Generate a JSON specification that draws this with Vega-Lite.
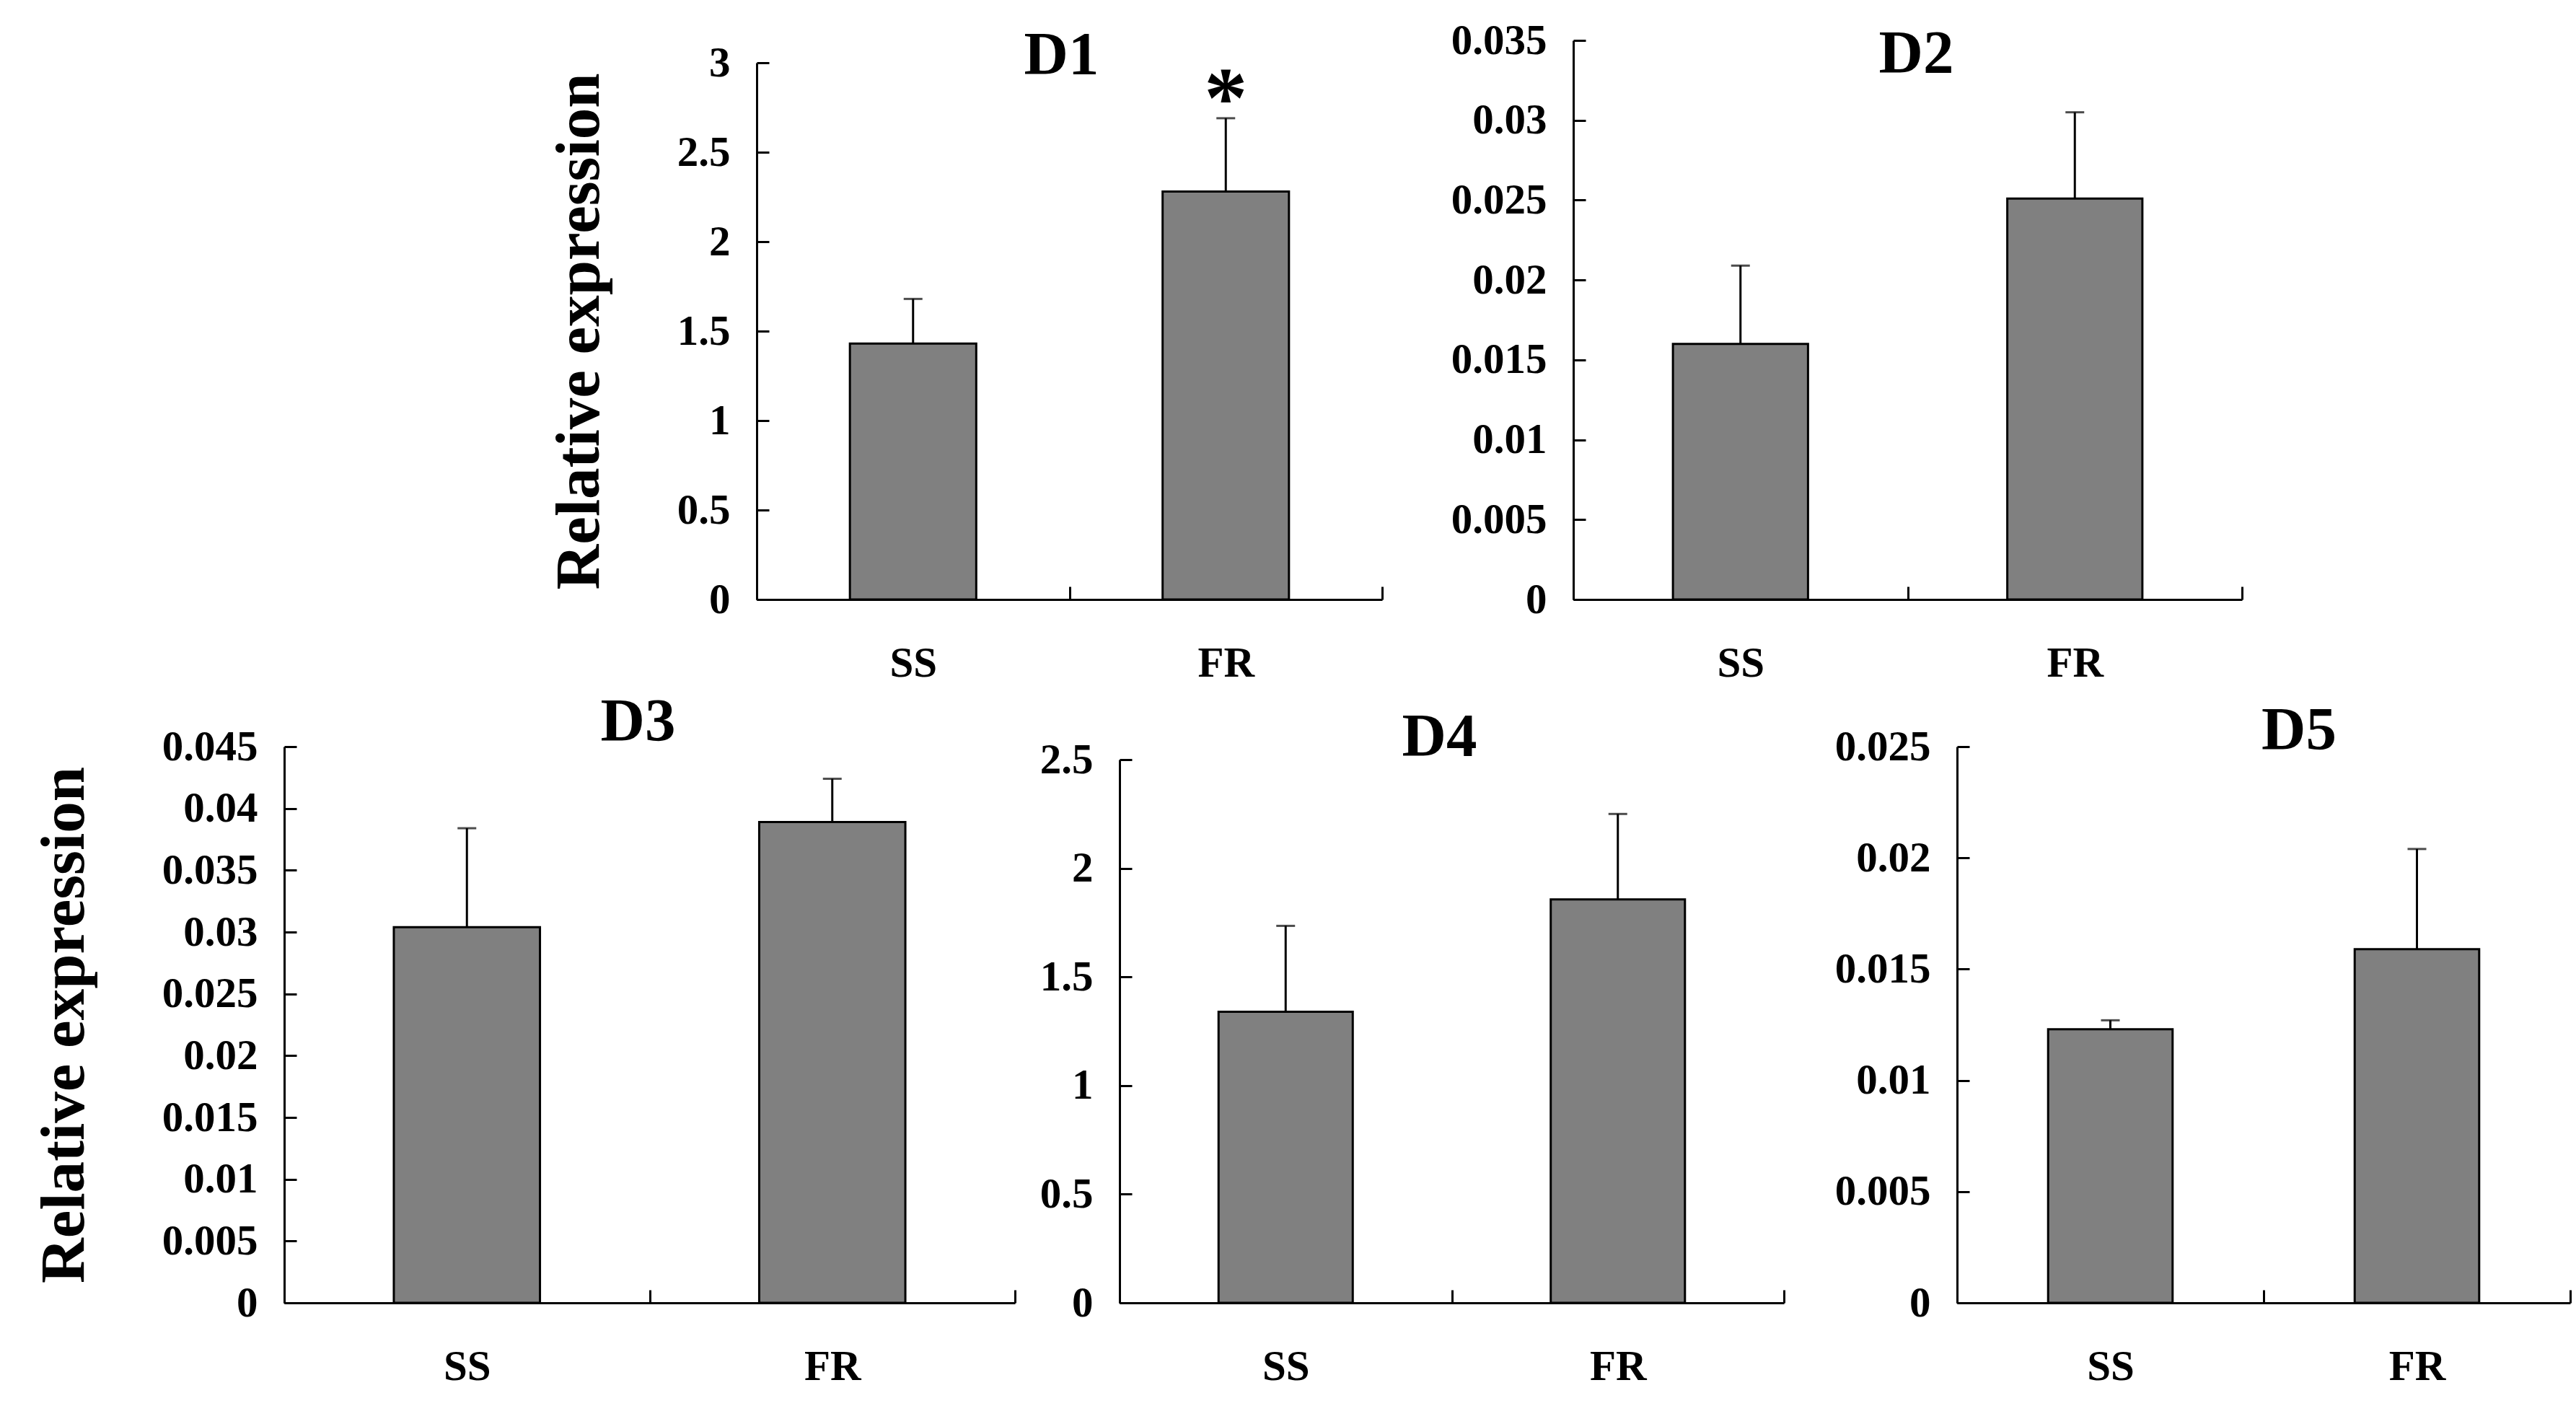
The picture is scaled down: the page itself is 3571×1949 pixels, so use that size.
{
  "$schema": "https://vega.github.io/schema/vega-lite/v6.json",
  "description": "Relative expression of D1-D5 in SS and FR samples, bars with upper error bars",
  "background": "white",
  "padding": {"left": 45, "top": 27, "right": 0, "bottom": 0},
  "config": {
    "view": {"stroke": null},
    "font": "Liberation Serif",
    "title": {
      "font": "Liberation Serif",
      "fontSize": 85,
      "fontWeight": "bold",
      "color": "black",
      "anchor": "middle",
      "frame": "group",
      "baseline": "alphabetic"
    },
    "axisX": {
      "title": null,
      "domainColor": "black",
      "domainWidth": 3,
      "tickColor": "black",
      "tickWidth": 3,
      "tickSize": -18,
      "tickBand": "extent",
      "labelAngle": 0,
      "labelPadding": 77,
      "labelFont": "Liberation Serif",
      "labelFontSize": 59,
      "labelFontWeight": "bold",
      "labelColor": "black",
      "grid": false
    },
    "axisY": {
      "domainColor": "black",
      "domainWidth": 3,
      "tickColor": "black",
      "tickWidth": 3,
      "tickSize": -17,
      "labelPadding": 54,
      "labelFlush": false,
      "labelOverlap": false,
      "labelFont": "Liberation Serif",
      "labelFontSize": 59,
      "labelFontWeight": "bold",
      "labelColor": "black",
      "format": "~g",
      "grid": false,
      "titleFont": "Liberation Serif",
      "titleFontSize": 87,
      "titleFontWeight": "bold",
      "titleColor": "black",
      "titlePadding": 91
    }
  },
  "data": {
    "values": [
      {"panel": "D1", "group": "SS", "value": 1.43, "upper": 1.68, "sig": ""},
      {"panel": "D1", "group": "FR", "value": 2.28, "upper": 2.69, "sig": "*"},
      {"panel": "D2", "group": "SS", "value": 0.016, "upper": 0.0209, "sig": ""},
      {"panel": "D2", "group": "FR", "value": 0.0251, "upper": 0.0305, "sig": ""},
      {"panel": "D3", "group": "SS", "value": 0.0304, "upper": 0.0384, "sig": ""},
      {"panel": "D3", "group": "FR", "value": 0.0389, "upper": 0.0424, "sig": ""},
      {"panel": "D4", "group": "SS", "value": 1.34, "upper": 1.735, "sig": ""},
      {"panel": "D4", "group": "FR", "value": 1.857, "upper": 2.25, "sig": ""},
      {"panel": "D5", "group": "SS", "value": 0.0123, "upper": 0.0127, "sig": ""},
      {"panel": "D5", "group": "FR", "value": 0.0159, "upper": 0.0204, "sig": ""}
    ]
  },
  "spacing": 10,
  "vconcat": [
    {
      "hconcat": [
        {"width": 655, "height": 10, "mark": {"type": "point", "opacity": 0}},
        {
          "width": 867,
          "height": 775,
          "title": {"text": "D1", "offset": -65, "dx": -11},
          "transform": [{"filter": "datum.panel == 'D1'"}],
          "encoding": {
            "x": {"field": "group", "type": "nominal", "sort": ["SS", "FR"], "scale": {"paddingInner": 0, "paddingOuter": 0}}
          },
          "layer": [
            {
              "mark": {"type": "rule", "color": "black", "strokeWidth": 3},
              "encoding": {
                "y": {"field": "value", "type": "quantitative", "title": "Relative expression", "scale": {"domain": [0, 3], "range": [775, 31], "nice": false}, "axis": {"values": [0, 0.5, 1, 1.5, 2, 2.5, 3]}},
                "y2": {"field": "upper"}
              }
            },
            {
              "mark": {"type": "bar", "width": {"band": 0.404}, "fill": "#808080", "stroke": "black", "strokeWidth": 3},
              "encoding": {"y": {"field": "value", "type": "quantitative", "title": "Relative expression"}}
            },
            {
              "mark": {"type": "tick", "orient": "horizontal", "size": 26, "thickness": 3, "color": "black"},
              "encoding": {"y": {"field": "upper", "type": "quantitative", "title": "Relative expression"}}
            },
            {
              "mark": {"type": "text", "font": "Liberation Serif", "fontSize": 120, "fontWeight": "bold", "color": "black", "baseline": "alphabetic", "dy": 12},
              "encoding": {"y": {"field": "upper", "type": "quantitative", "title": "Relative expression"}, "text": {"field": "sig"}}
            }
          ]
        },
        {"width": 265, "height": 10, "mark": {"type": "point", "opacity": 0}},
        {
          "width": 927,
          "height": 775,
          "title": {"text": "D2", "offset": -92, "dx": 12},
          "transform": [{"filter": "datum.panel == 'D2'"}],
          "encoding": {
            "x": {"field": "group", "type": "nominal", "sort": ["SS", "FR"], "scale": {"paddingInner": 0, "paddingOuter": 0}}
          },
          "layer": [
            {
              "mark": {"type": "rule", "color": "black", "strokeWidth": 3},
              "encoding": {
                "y": {"field": "value", "type": "quantitative", "title": null, "scale": {"domain": [0, 0.035], "nice": false}, "axis": {"values": [0, 0.005, 0.01, 0.015, 0.02, 0.025, 0.03, 0.035]}},
                "y2": {"field": "upper"}
              }
            },
            {
              "mark": {"type": "bar", "width": {"band": 0.404}, "fill": "#808080", "stroke": "black", "strokeWidth": 3},
              "encoding": {"y": {"field": "value", "type": "quantitative", "title": null}}
            },
            {
              "mark": {"type": "tick", "orient": "horizontal", "size": 26, "thickness": 3, "color": "black"},
              "encoding": {"y": {"field": "upper", "type": "quantitative", "title": null}}
            }
          ]
        }
      ],
      "spacing": 0,
      "bounds": "flush"
    },
    {
      "hconcat": [
        {
          "width": 1013,
          "height": 771,
          "title": {"text": "D3", "offset": -39, "dx": -16},
          "transform": [{"filter": "datum.panel == 'D3'"}],
          "encoding": {
            "x": {"field": "group", "type": "nominal", "sort": ["SS", "FR"], "scale": {"paddingInner": 0, "paddingOuter": 0}}
          },
          "layer": [
            {
              "mark": {"type": "rule", "color": "black", "strokeWidth": 3},
              "encoding": {
                "y": {"field": "value", "type": "quantitative", "title": "Relative expression", "scale": {"domain": [0, 0.045], "nice": false}, "axis": {"values": [0, 0.005, 0.01, 0.015, 0.02, 0.025, 0.03, 0.035, 0.04, 0.045]}},
                "y2": {"field": "upper"}
              }
            },
            {
              "mark": {"type": "bar", "width": {"band": 0.4}, "fill": "#808080", "stroke": "black", "strokeWidth": 3},
              "encoding": {"y": {"field": "value", "type": "quantitative", "title": "Relative expression"}}
            },
            {
              "mark": {"type": "tick", "orient": "horizontal", "size": 26, "thickness": 3, "color": "black"},
              "encoding": {"y": {"field": "upper", "type": "quantitative", "title": "Relative expression"}}
            }
          ]
        },
        {"width": 145, "height": 10, "mark": {"type": "point", "opacity": 0}},
        {
          "width": 921,
          "height": 771,
          "title": {"text": "D4", "offset": -42, "dx": -17},
          "transform": [{"filter": "datum.panel == 'D4'"}],
          "encoding": {
            "x": {"field": "group", "type": "nominal", "sort": ["SS", "FR"], "scale": {"paddingInner": 0, "paddingOuter": 0}}
          },
          "layer": [
            {
              "mark": {"type": "rule", "color": "black", "strokeWidth": 3},
              "encoding": {
                "y": {"field": "value", "type": "quantitative", "title": null, "scale": {"domain": [0, 2.5], "range": [771, 18], "nice": false}, "axis": {"values": [0, 0.5, 1, 1.5, 2, 2.5]}},
                "y2": {"field": "upper"}
              }
            },
            {
              "mark": {"type": "bar", "width": {"band": 0.404}, "fill": "#808080", "stroke": "black", "strokeWidth": 3},
              "encoding": {"y": {"field": "value", "type": "quantitative", "title": null}}
            },
            {
              "mark": {"type": "tick", "orient": "horizontal", "size": 26, "thickness": 3, "color": "black"},
              "encoding": {"y": {"field": "upper", "type": "quantitative", "title": null}}
            }
          ]
        },
        {"width": 240, "height": 10, "mark": {"type": "point", "opacity": 0}},
        {
          "width": 850,
          "height": 771,
          "title": {"text": "D5", "offset": -51, "dx": 49},
          "transform": [{"filter": "datum.panel == 'D5'"}],
          "encoding": {
            "x": {"field": "group", "type": "nominal", "sort": ["SS", "FR"], "scale": {"paddingInner": 0, "paddingOuter": 0}}
          },
          "layer": [
            {
              "mark": {"type": "rule", "color": "black", "strokeWidth": 3},
              "encoding": {
                "y": {"field": "value", "type": "quantitative", "title": null, "scale": {"domain": [0, 0.025], "nice": false}, "axis": {"values": [0, 0.005, 0.01, 0.015, 0.02, 0.025]}},
                "y2": {"field": "upper"}
              }
            },
            {
              "mark": {"type": "bar", "width": {"band": 0.406}, "fill": "#808080", "stroke": "black", "strokeWidth": 3},
              "encoding": {"y": {"field": "value", "type": "quantitative", "title": null}}
            },
            {
              "mark": {"type": "tick", "orient": "horizontal", "size": 26, "thickness": 3, "color": "black"},
              "encoding": {"y": {"field": "upper", "type": "quantitative", "title": null}}
            }
          ]
        }
      ],
      "spacing": 0,
      "bounds": "flush"
    }
  ]
}
